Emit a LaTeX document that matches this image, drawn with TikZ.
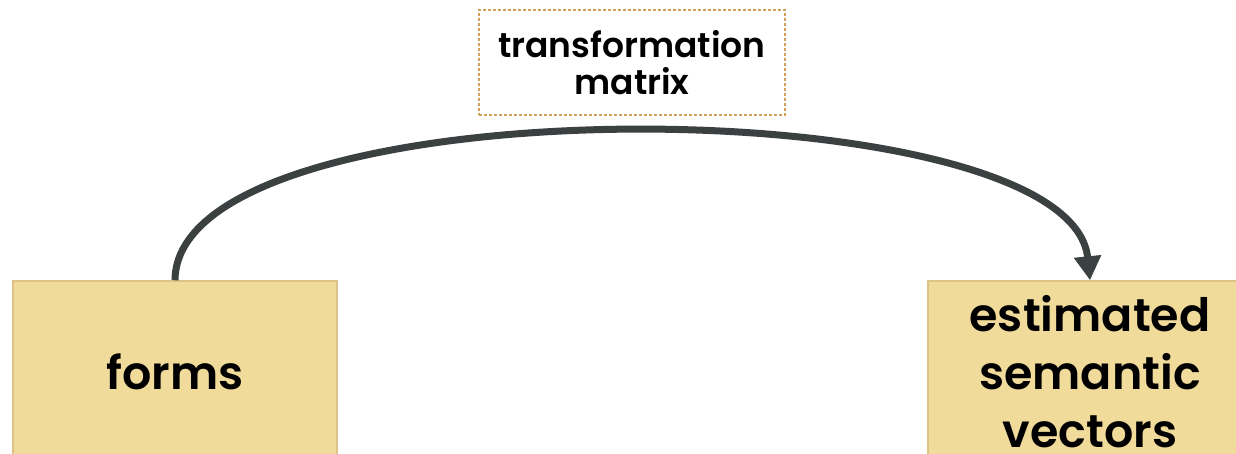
\documentclass[tikz,border=0pt]{standalone}
\usepackage{fontspec}
\setmainfont{Poppins}[UprightFont=* SemiBold]
\usepackage{tikz}
\usetikzlibrary{arrows.meta,positioning}
\definecolor{boxfill}{HTML}{F1DB9B}
\definecolor{boxline}{HTML}{DFC288}
\definecolor{dashline}{HTML}{D2A05A}
\definecolor{arrowgray}{HTML}{3A4140}
\tikzset{>={Triangle[length=24pt,width=26pt]},x=1pt,y=-1pt}
\tikzset{block/.style={draw=boxline,fill=boxfill,line width=1.5pt,minimum width=324pt,minimum height=182pt,align=center,font=\fontsize{46}{58}\selectfont}}

\begin{document}
\begin{tikzpicture}[label box/.style={draw=dashline,dash pattern=on 3pt off 2pt,line width=1.3pt,minimum width=306pt,minimum height=105pt,align=center,font=\fontsize{34.5}{37}\selectfont}]
        \clip (0,0) rectangle (1236,453);
        \useasboundingbox (0,0) rectangle (1236,453);

        \node[block] (forms) at (175,372) {forms};
        \node[block] (semvec) at (1090,372) {estimated\\semantic\\vectors};
        \node[label box] (matrix) at (632,62.5) {transformation\\matrix};

        \draw[->,line width=7pt,draw=arrowgray]
            (forms.north) .. controls (176,80) and (1070,85) .. (semvec.north);
\end{tikzpicture}
\end{document}
